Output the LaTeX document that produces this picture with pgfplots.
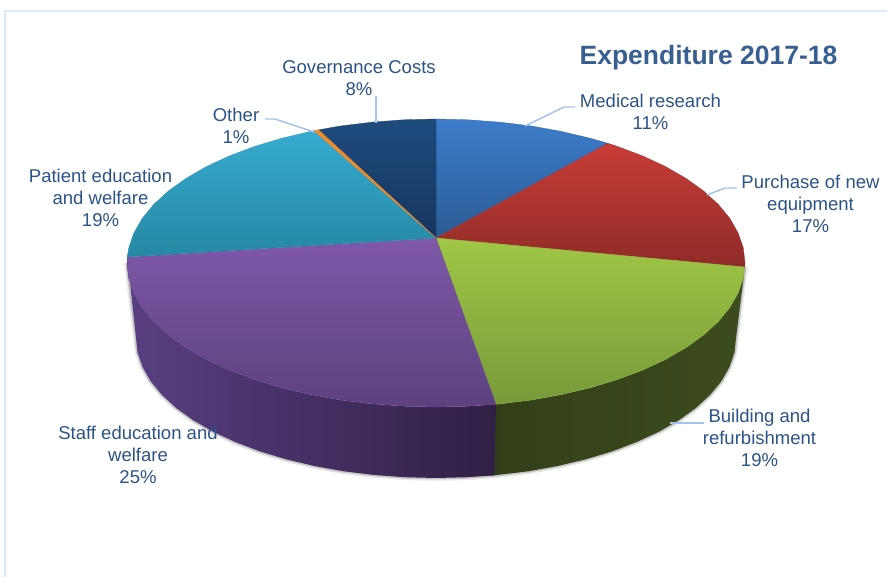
\documentclass[border=0pt]{standalone}
\usepackage{fontspec}
\setmainfont{Liberation Sans}
\usepackage{pgfplots}
\usepackage{pgfplotstable}
\pgfplotsset{compat=1.18}
\definecolor{lab}{HTML}{2A5388}
\definecolor{ttl}{HTML}{376092}
\definecolor{lead}{HTML}{A3C4EA}
\definecolor{frame}{HTML}{DCE9F8}
\definecolor{sideGreenL}{HTML}{323E19}
\definecolor{sideGreenR}{HTML}{3D4C1E}
\definecolor{sidePurpL}{HTML}{593F82}
\definecolor{sidePurpM}{HTML}{46315F}
\definecolor{sidePurpR}{HTML}{2F2045}
\definecolor{blueT}{HTML}{3D7CCB}
\definecolor{blueB}{HTML}{2A5B94}
\definecolor{redT}{HTML}{C93D38}
\definecolor{redB}{HTML}{8F2B28}
\definecolor{greenT}{HTML}{A0C746}
\definecolor{greenB}{HTML}{789A3A}
\definecolor{purpT}{HTML}{7F58A8}
\definecolor{purpB}{HTML}{5D417F}
\definecolor{tealT}{HTML}{36ABD0}
\definecolor{tealB}{HTML}{2687A3}
\definecolor{orangeS}{HTML}{EC8A2C}
\definecolor{navyT}{HTML}{1F4B7E}
\definecolor{navyB}{HTML}{163660}
% outer rim of the lower face, right to left
\pgfplotstableread{
x y
745 267
736 338
734.4 352.6
729.4 367.1
721.3 381.3
710 394.9
695.8 408
678.7 420.3
658.9 431.7
636.7 442
612.3 451.3
586 459.2
558 465.9
528.7 471.2
494.3 475.3
467.4 477.2
436 478
404.6 477.2
373.6 474.9
343.3 471.2
314 465.9
286 459.2
259.7 451.3
235.3 442
213.1 431.7
193.3 420.3
176.2 408
162 394.9
150.7 381.3
142.6 367.1
137.6 352.6
136 338
127 263
}\rim
\begin{document}
\begin{tikzpicture}
\path[use as bounding box] (0,0) rectangle (887bp,577bp);
\begin{axis}[
  at={(0,0)}, anchor=south west,
  width=887bp, height=577bp, scale only axis,
  xmin=0, xmax=887, ymin=0, ymax=577, y dir=reverse,
  hide axis, clip=true, cycle list={{draw=none}},
]
% frame
\addplot[frame, line width=1.8pt, forget plot] coordinates {(5,577) (5,11) (887,11)};
% soft shadow
\addplot[black!55, opacity=.14, line width=6pt, forget plot, line join=round] table[x=x,y=y] {\rim};
\addplot[black!70, opacity=.25, line width=3pt, forget plot, line join=round] table[x=x,y=y] {\rim};
% side of Building and refurbishment
\addplot[left color=sideGreenL, right color=sideGreenR, draw=none, forget plot] coordinates {
(490,404.3) (496,404.3) (500.2,403.8) (531.5,400) (561.7,394.5) (590.5,387.7) (617.6,379.5) (642.8,370) (665.6,359.4) (686,347.6) (703.6,335) (718.3,321.6) (729.9,307.5) (738.2,292.9) (743.3,278) (744.9,267)
(736,338) (734.4,352.6) (729.4,367.1) (721.3,381.3) (710,394.9) (695.8,408) (678.7,420.3) (658.9,431.7) (636.7,442) (612.3,451.3) (586,459.2) (558,465.9) (528.7,471.2) (494.3,475.3) (490,475.3) (490,404.3)};
% side of Staff education and welfare
\addplot[left color=sidePurpL, middle color=sidePurpM, right color=sidePurpR, draw=none, forget plot] coordinates {
(496,404.3) (468.3,406.2) (436,407) (403.7,406.2) (371.8,403.8) (340.5,400) (310.3,394.5) (281.5,387.7) (254.4,379.5) (229.2,370) (206.4,359.4) (186,347.6) (168.4,335) (153.7,321.6) (142.1,307.5) (133.8,292.9) (128.7,278) (127,263) (127.3,257)
(136,338) (137.6,352.6) (142.6,367.1) (150.7,381.3) (162,394.9) (176.2,408) (193.3,420.3) (213.1,431.7) (235.3,442) (259.7,451.3) (286,459.2) (314,465.9) (343.3,471.2) (373.6,474.9) (404.6,477.2) (436,478) (467.4,477.2) (494.3,475.3) (496,404.3)};
% Medical research 11
\addplot[top color=blueT, bottom color=blueB, draw=blueB!70!blueT, line width=.3pt, forget plot] coordinates {
(436,238) (436,119) (468.3,119.8) (500.2,122.2) (531.5,126) (561.7,131.5) (590.5,138.3) (607.9,143.3) (436,238)};
% Purchase of new equipment 17
\addplot[top color=redT, bottom color=redB, draw=redB!70!redT, line width=.3pt, forget plot] coordinates {
(436,238) (607.9,143.3) (617.6,146.5) (642.8,156) (665.6,166.6) (686,178.4) (703.6,191) (718.3,204.4) (729.9,218.5) (738.2,233.1) (743.3,248) (745,263) (744.9,267) (436,238)};
% Building and refurbishment 19
\addplot[top color=greenT, bottom color=greenB, draw=greenB!60!greenT, line width=.3pt, forget plot] coordinates {
(436,238) (744.9,267) (743.3,278) (738.2,292.9) (729.9,307.5) (718.3,321.6) (703.6,335) (686,347.6) (665.6,359.4) (642.8,370) (617.6,379.5) (590.5,387.7) (561.7,394.5) (531.5,400) (500.2,403.8) (496,404.3) (436,238)};
% Staff education and welfare 25
\addplot[top color=purpT, bottom color=purpB, draw=purpB!60!purpT, line width=.3pt, forget plot] coordinates {
(436,238) (496,404.3) (468.3,406.2) (436,407) (403.7,406.2) (371.8,403.8) (340.5,400) (310.3,394.5) (281.5,387.7) (254.4,379.5) (229.2,370) (206.4,359.4) (186,347.6) (168.4,335) (153.7,321.6) (142.1,307.5) (133.8,292.9) (128.7,278) (127,263) (127.3,257) (436,238)};
% Patient education and welfare 19
\addplot[top color=tealT, bottom color=tealB, draw=tealB!60!tealT, line width=.3pt, forget plot] coordinates {
(436,238) (127.3,257) (128.7,248) (133.8,233.1) (142.1,218.5) (153.7,204.4) (168.4,191) (186,178.4) (206.4,166.6) (229.2,156) (254.4,146.5) (281.5,138.3) (310.3,131.5) (314.3,130.6) (436,238)};
% Governance Costs 8
\addplot[top color=navyT, bottom color=navyB, draw=navyB!60!navyT, line width=.3pt, forget plot] coordinates {
(436,238) (318.2,129.9) (340.5,126) (371.8,122.2) (403.7,119.8) (436,119) (436,238)};
% Other 1
\addplot[fill=orangeS, draw=orangeS, line width=.4pt, forget plot] coordinates {
(436,238) (314.0,130.7) (318.6,129.9) (436,238)};
% leader lines
\addplot[lead, line width=1.5pt, forget plot] coordinates {(525,126) (564,107) (575,107)};
\addplot[lead, line width=1.5pt, forget plot] coordinates {(707,195) (725,188) (737,188)};
\addplot[lead, line width=1.5pt, forget plot] coordinates {(670,423) (704,423)};
\addplot[lead, line width=1.5pt, forget plot] coordinates {(314,132) (275,119) (265,119)};
\addplot[lead, line width=1.5pt, forget plot] coordinates {(376,123) (376,96)};
% texts
\tikzset{lbl/.style={text=lab, align=center, inner sep=0pt, font=\fontsize{18.6}{21.8}\selectfont}}
\node[text=ttl, inner sep=0pt, font=\fontsize{26.6}{30}\selectfont\bfseries] at (axis cs:708.5,57.5) {Expenditure 2017-18};
\node[lbl] at (axis cs:359,78) {Governance Costs\\8\%};
\node[lbl] at (axis cs:236,125.5) {Other\\1\%};
\node[lbl] at (axis cs:100.5,198) {Patient education\\and welfare\\19\%};
\node[lbl] at (axis cs:650.5,111.5) {Medical research\\11\%};
\node[lbl] at (axis cs:810.5,204) {Purchase of new\\equipment\\17\%};
\node[lbl] at (axis cs:759.5,438) {Building and\\refurbishment\\19\%};
\node[lbl] at (axis cs:138,455) {Staff education and\\welfare\\25\%};
\end{axis}
\end{tikzpicture}
\end{document}
